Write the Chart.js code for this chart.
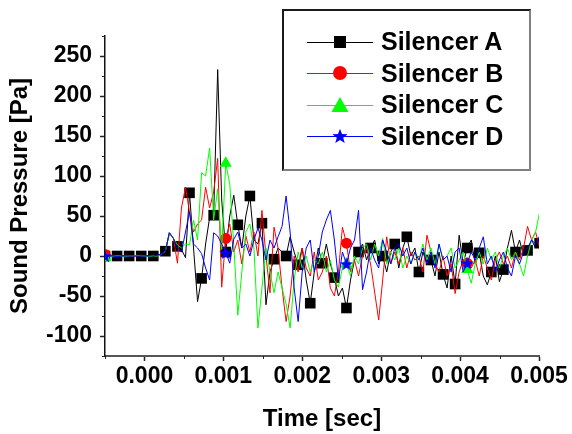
<!DOCTYPE html>
<html>
<head>
<meta charset="utf-8">
<title>Silencer sound pressure</title>
<script src="https://cdn.jsdelivr.net/npm/chart.js@4.4.1/dist/chart.umd.min.js"></script>
<style>
  body { margin: 0; background: #fff; }
  #wrap { position: relative; width: 572px; height: 434px; }
  #legend {
    position: absolute; left: 282px; top: 9px;
    width: 245px; height: 143px; padding-top: 15px;
    border-style: solid; border-width: 2px;
    border-color: #1a1a1a #808080 #808080 #1a1a1a;
    background: #fff;
    font: bold 25px 'Liberation Sans', Arial, sans-serif;
  }
  .row { display: flex; align-items: center; height: 31.5px; padding-left: 23px; }
  .row canvas { margin-right: 8px; }
</style>
</head>
<body>
<div id="wrap">
  <canvas id="grafico" width="572" height="434"></canvas>
  <div id="legend"></div>
</div>
<script>
// Series names and colours
const seriesNames = ["Silencer A", "Silencer B", "Silencer C", "Silencer D"];
const seriesColors = ["#000000", "#ff0000", "#00ff00", "#0000ff"];

// Sampling: first sample and step in seconds
const startTime = -0.0005;
const sampleStep = 0.000051;

// Sound pressure [Pa]
const silencerA = [
    0, 1, 0, 0, 1, 0, 0, 1, 0, 0,
    1, 0, 0, 2, 2, 6, 29, 22, 12, 8,
    -2, 79, 10, -57, -28, 15, 48, 51, 233, 70,
    5, 50, 76, 39, 10, 50, 75, 20, 15, 41,
    -61, -20, -4, 10, 5, 0, 24, 5, -11, 10,
    -30, -59, -20, 10, -9, 15, -10, -27, -50, -40,
    -65, -30, -5, 5, 15, -5, 10, 20, -10, 0,
    -20, 5, 15, -15, 10, 24, 0, 10, -20, 5,
    -10, -5, -25, 5, -23, -40, 0, -35, 26, -10,
    10, 20, -10, 4, -25, -36, -20, 0, -32, -17,
    10, 32, 5, 20, 0, 7, 20, 10, 16
];
const silencerB = [
    2, 0, 1, 0, 0, 1, 0, 0, 0, 1,
    0, 0, 1, 0, 2, 6, 29, 22, -9, 60,
    86, 55, 30, 40, 45, 86, 60, 80, 122, -39,
    22, 40, 5, 20, -10, 25, 5, 30, 0, 57,
    0, -46, 36, 10, -40, -82, -50, 0, -20, 10,
    -15, -25, 5, -30, -20, 0, -40, -50, -20, 36,
    16, -20, -5, -25, 0, 10, -10, -45, -80, -30,
    24, -10, 5, -10, 10, -15, 5, -5, 0, -20,
    26, 5, -10, -20, 0, -25, -10, -47, -20, -5,
    -9, -15, -5, -25, 0, -15, -30, -5, 5, -10,
    0, -15, 5, -5, 10, 37, 20, 30, 10
];
const silencerC = [
    -2, 0, -1, 0, 0, -1, 0, 0, 1, 0,
    0, -1, 0, 0, 2, 6, 29, 22, 14, 10,
    15, 14, 45, 20, 104, 100, 135, 45, 84, 8,
    116, 90, 14, -74, -20, 30, 40, 10, -90, -40,
    10, -20, -46, -20, -40, -60, -90, -30, 5, -15,
    0, -20, -5, -10, 5, -20, -5, -30, -39, -15,
    -10, -25, 0, -10, 10, 15, -5, 15, 0, 22,
    -10, 5, -5, 10, -15, 0, -10, 5, -5, 15,
    -5, 10, -10, 15, -5, 0, 10, -15, -5, 5,
    -17, -34, -10, 5, -10, 10, -5, 5, -15, 0,
    10, -5, 5, -10, -25, 0, 20, 30, 55
];
const silencerD = [
    0, 0, 0, -1, 0, 0, 0, 0, 0, 0,
    0, 0, 0, 1, 2, 6, 29, 22, 10, 5,
    30, 55, 15, 10, 3, -15, -30, 29, 25, 15,
    4, -9, 21, 30, 10, 15, 0, 20, 35, 20,
    -5, 20, 10, 24, 37, 75, 30, -40, -82, -20,
    10, 20, -20, 0, 30, 45, 57, 20, -30, 5,
    -10, 10, 20, 57, -42, -20, 10, -5, -15, 20,
    5, -10, 10, 15, 0, 10, -10, 5, -5, 10,
    -10, 5, -15, 15, -5, 0, -20, 5, 10, -20,
    -9, 5, -5, 10, 24, -10, 0, -20, -5, 5,
    -15, -25, 0, -10, 5, 10, 20, 15, 25
];

// Labelled ticks
const xMajorTicks = [0, 0.001, 0.002, 0.003, 0.004, 0.005];
const yMajorTicks = [-100, -50, 0, 50, 100, 150, 200, 250];

const seriesValues = [silencerA, silencerB, silencerC, silencerD];
const times = silencerA.map((_, i) => startTime + i * sampleStep);

const fontFamily = "'Liberation Sans', Arial, sans-serif";

function isMajor(v, list) {
    return list.some(m => Math.abs(m - v) < 1e-9);
}

// filled five point star, used for Silencer D
function makeStar(size, color) {
    const c = document.createElement("canvas");
    c.width = size;
    c.height = size;
    const g = c.getContext("2d");
    const r = size / 2, ri = r * 0.42;
    g.beginPath();
    for (let k = 0; k < 10; k++) {
        const a = -Math.PI / 2 + k * Math.PI / 5;
        const rr = k % 2 ? ri : r;
        g.lineTo(r + rr * Math.cos(a), r * 1.08 + rr * Math.sin(a));
    }
    g.closePath();
    g.fillStyle = color;
    g.fill();
    return c;
}

const markerStyles = ["rect", "circle", "triangle", makeStar(14, seriesColors[3])];
const markerRadius = [7.5, 5.5, 7, 7];
const markerEvery = [3, 30, 30, 30];

// short ticks between the labelled ones
const minorTicks = {
    id: "minorTicks",
    afterDraw(chart) {
        const { ctx, scales: { x, y } } = chart;
        ctx.save();
        ctx.strokeStyle = "#222";
        ctx.lineWidth = 1;
        ctx.beginPath();
        x.ticks.forEach(t => {
            if (!isMajor(t.value, xMajorTicks)) {
                const p = Math.round(x.getPixelForValue(t.value)) + 0.5;
                ctx.moveTo(p, x.top);
                ctx.lineTo(p, x.top + 3);
            }
        });
        y.ticks.forEach(t => {
            if (!isMajor(t.value, yMajorTicks)) {
                const p = Math.round(y.getPixelForValue(t.value)) + 0.5;
                ctx.moveTo(y.right - 3, p);
                ctx.lineTo(y.right, p);
            }
        });
        ctx.stroke();
        ctx.restore();
    }
};

const grafico = new Chart(document.getElementById("grafico"), {
    type: "line",
    data: {
        datasets: seriesValues.map((vals, k) => ({
            label: seriesNames[k],
            data: vals.map((v, i) => ({ x: times[i], y: v })),
            borderColor: seriesColors[k],
            backgroundColor: seriesColors[k],
            borderWidth: 1,
            tension: 0,
            pointStyle: markerStyles[k],
            pointBorderWidth: 0,
            pointRadius: ctx => ctx.dataIndex % markerEvery[k] === 0 ? markerRadius[k] : 0,
            order: 4 - k
        }))
    },
    options: {
        responsive: false,
        animation: false,
        events: [],
        layout: { padding: { top: 36, right: 33, bottom: 0, left: 0 } },
        plugins: {
            legend: { display: false },
            tooltip: { enabled: false }
        },
        scales: {
            x: {
                type: "linear",
                min: -0.0005,
                max: 0.005,
                afterFit: s => { s.height = 78; },
                border: { display: true, color: "#555", width: 2 },
                grid: {
                    drawOnChartArea: false,
                    tickLength: 5,
                    tickWidth: 1.5,
                    tickColor: c => isMajor(c.tick.value, xMajorTicks) ? "#222" : "rgba(0,0,0,0)"
                },
                ticks: {
                    stepSize: 0.0005,
                    autoSkip: false,
                    maxRotation: 0,
                    minRotation: 0,
                    padding: 2,
                    color: "#000",
                    font: { family: fontFamily, size: 23, weight: "bold" },
                    callback: v => isMajor(v, xMajorTicks) ? v.toFixed(3) : ""
                },
                title: {
                    display: true,
                    text: "Time [sec]",
                    color: "#000",
                    padding: { top: 0, bottom: 0 },
                    font: { family: fontFamily, size: 24, weight: "bold" }
                }
            },
            y: {
                min: -125,
                max: 275,
                afterFit: s => { s.width = 105; },
                border: { display: true, color: "#111", width: 1.5 },
                grid: {
                    drawOnChartArea: false,
                    tickLength: 5,
                    tickWidth: 1.5,
                    tickColor: c => isMajor(c.tick.value, yMajorTicks) ? "#222" : "rgba(0,0,0,0)"
                },
                ticks: {
                    stepSize: 25,
                    autoSkip: false,
                    padding: 8,
                    color: "#000",
                    font: { family: fontFamily, size: 23, weight: "bold" },
                    callback: v => isMajor(v, yMajorTicks) ? String(v) : ""
                },
                title: {
                    display: true,
                    text: "Sound Pressure [Pa]",
                    color: "#000",
                    padding: { top: 6, bottom: 0 },
                    font: { family: fontFamily, size: 24, weight: "bold" }
                }
            }
        }
    },
    plugins: [minorTicks]
});

// legend box: line with its marker, then the name
function drawIcon(canvas, k) {
    const g = canvas.getContext("2d");
    const cx = canvas.width / 2, cy = canvas.height / 2;
    const color = seriesColors[k];
    g.strokeStyle = color;
    g.fillStyle = color;
    g.lineWidth = 1;
    g.beginPath();
    g.moveTo(0, cy + 0.5);
    g.lineTo(canvas.width, cy + 0.5);
    g.stroke();
    const style = markerStyles[k];
    if (style === "rect") {
        g.fillRect(cx - 6, cy - 6, 12, 12);
    } else if (style === "circle") {
        g.beginPath();
        g.arc(cx, cy, 7, 0, 2 * Math.PI);
        g.fill();
    } else if (style === "triangle") {
        g.beginPath();
        g.moveTo(cx, cy - 8);
        g.lineTo(cx + 8.5, cy + 7);
        g.lineTo(cx - 8.5, cy + 7);
        g.closePath();
        g.fill();
    } else {
        g.drawImage(makeStar(16, color), cx - 8, cy - 8);
    }
}

const legendBox = document.getElementById("legend");
grafico.data.datasets.forEach((ds, k) => {
    const row = document.createElement("div");
    row.className = "row";
    const icon = document.createElement("canvas");
    icon.width = 66;
    icon.height = 22;
    drawIcon(icon, k);
    const label = document.createElement("span");
    label.textContent = ds.label;
    row.appendChild(icon);
    row.appendChild(label);
    legendBox.appendChild(row);
});
</script>
</body>
</html>
